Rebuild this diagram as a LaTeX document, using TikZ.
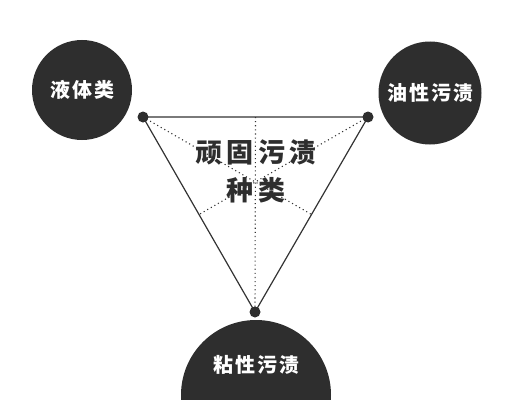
\documentclass[tikz,border=0pt]{standalone}
\usepackage{fontspec}
\newfontfamily\cjkbold[LetterSpace=10]{Noto Sans CJK SC Black}
\newfontfamily\cjktitle[LetterSpace=16]{Noto Sans CJK SC Black}
\definecolor{BlobGray}{HTML}{2E2E2E}
\definecolor{LineGray}{HTML}{333333}
\usetikzlibrary{calc}
\tikzset{
  blob/.style={circle, fill=BlobGray, text=white, inner sep=0pt,
               font=\cjkbold\fontsize{20}{24}\selectfont},
  corner/.style={circle, fill=BlobGray, minimum size=11pt, inner sep=0pt},
  edge/.style={draw=LineGray, line width=1.2pt},
  median/.style={draw=LineGray, line width=1.1pt, dash pattern=on 1.1pt off 3pt},
  titletext/.style={align=center, text=BlobGray,
               font=\cjktitle\fontsize{27}{38}\selectfont}
}

\begin{document}
\begin{tikzpicture}[x=1pt, y=-1pt]
\useasboundingbox (0,0) rectangle (508,412);
% outer circles
\node[blob, minimum size=100pt] (liquid) at (82,90) {液体类};
\node[blob, minimum size=103pt] (oily) at (430,93) {油性污渍};
\begin{scope}
  \clip (0,0) rectangle (508,399);
  \node[blob, minimum size=150pt] (sticky) at (256,395) {};
\end{scope}
\node[text=white, font=\cjkbold\fontsize{20}{24}\selectfont] (stickytext) at (256,365) {粘性污渍};
% triangle
\coordinate (tl) at (143,117);
\coordinate (tr) at (368,117);
\coordinate (bt) at (255,312);
\coordinate (mtop) at ($(tl)!0.5!(tr)$);
\coordinate (mleft) at ($(tl)!0.5!(bt)$);
\coordinate (mright) at ($(tr)!0.5!(bt)$);
\draw[median] (tl) -- (mright);
\draw[median] (tr) -- (mleft);
\draw[median] (mtop) -- (bt);
\draw[edge] (tl) -- (tr) -- (bt) -- cycle;
\node[corner] (dtl) at (tl) {};
\node[corner] (dtr) at (tr) {};
\node[corner] (dbt) at (bt) {};
% title
\node[titletext] (title) at (256,171) {顽固污渍\\种类};
\end{tikzpicture}
\end{document}
